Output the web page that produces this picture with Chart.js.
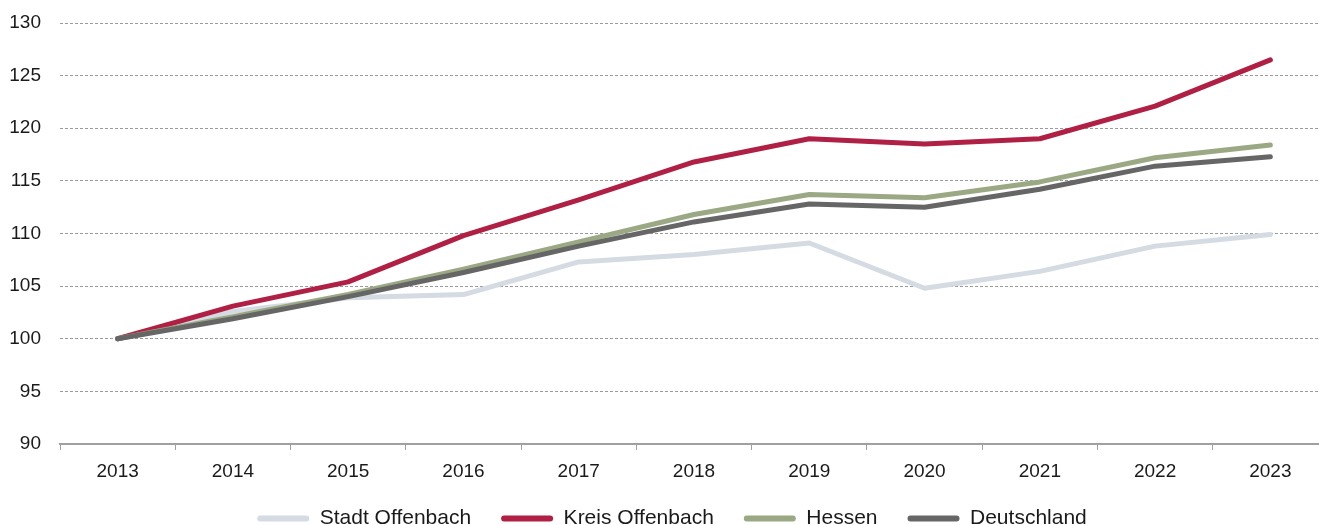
<!DOCTYPE html>
<html>
<head>
<meta charset="utf-8">
<script src="https://cdn.jsdelivr.net/npm/chart.js@4"></script>
<style>
  html, body { margin: 0; padding: 0; background: #fff; overflow: hidden; }
  #wrap { width: 1328px; height: 525px; }
</style>
</head>
<body>
<div id="wrap"><canvas id="lineChart" width="1328" height="525"></canvas></div>
<script>
const years = ["2013", "2014", "2015", "2016", "2017", "2018", "2019", "2020", "2021", "2022", "2023"];

const stadtOffenbach = [100, 102.6, 103.9, 104.2, 107.3, 108.0, 109.1, 104.8, 106.4, 108.8, 109.9];
const kreisOffenbach = [100, 103.1, 105.4, 109.8, 113.2, 116.8, 119.0, 118.5, 119.0, 122.1, 126.5];
const hessen = [100, 102.1, 104.2, 106.6, 109.2, 111.8, 113.7, 113.4, 114.9, 117.2, 118.4];
const deutschland = [100, 101.9, 104.0, 106.3, 108.8, 111.1, 112.8, 112.5, 114.2, 116.4, 117.3];

const seriesNames = ["Stadt Offenbach", "Kreis Offenbach", "Hessen", "Deutschland"];
const seriesColors = ["#d4dbe3", "#b01f44", "#9ba884", "#666666"];

function makeDataset(i, values) {
    return {
        label: seriesNames[i],
        data: values,
        borderColor: seriesColors[i],
        backgroundColor: seriesColors[i],
        borderWidth: 5,
        borderCapStyle: "round",
        borderJoinStyle: "round",
        pointRadius: 0,
        tension: 0,
        order: 4 - i
    };
}

// legend sits tighter under the axis and slightly right of centre in the original
const legendTweak = {
    id: "legendTweak",
    beforeInit(chart) {
        const fit = chart.legend.fit;
        chart.legend.fit = function () {
            fit.call(this);
            this.height -= 20;
        };
    },
    afterLayout(chart) {
        chart.legend.left += 8;
        chart.legend.right += 8;
        chart.legend.top -= 6;
    }
};

const ctx = document.getElementById("lineChart").getContext("2d");

new Chart(ctx, {
    type: "line",
    data: {
        labels: years,
        datasets: [
            makeDataset(0, stadtOffenbach),
            makeDataset(1, kreisOffenbach),
            makeDataset(2, hessen),
            makeDataset(3, deutschland)
        ]
    },
    plugins: [legendTweak],
    options: {
        responsive: false,
        animation: false,
        layout: { padding: { top: 23, left: 0, right: 0, bottom: 0 } },
        plugins: {
            tooltip: { enabled: false },
            legend: {
                position: "bottom",
                labels: {
                    boxWidth: 52,
                    boxHeight: 6,
                    useBorderRadius: true,
                    borderRadius: 3,
                    padding: 30,
                    color: "#1a1a1a",
                    font: { family: "Liberation Sans", size: 21 },
                    sort: (a, b) => a.datasetIndex - b.datasetIndex,
                    generateLabels: chart =>
                        Chart.defaults.plugins.legend.labels.generateLabels(chart)
                            .map(l => ({ ...l, lineWidth: 0 }))
                }
            }
        },
        scales: {
            x: {
                offset: true,
                afterFit: scale => { scale.height = 40; },
                grid: {
                    offset: true,
                    drawOnChartArea: false,
                    drawTicks: true,
                    tickLength: 6,
                    color: "#a0a0a0"
                },
                border: { display: true, color: "#a0a0a0", width: 2 },
                ticks: {
                    color: "#1a1a1a",
                    padding: 10,
                    maxRotation: 0,
                    font: { family: "Liberation Sans", size: 19 }
                }
            },
            y: {
                min: 90,
                max: 130,
                afterFit: scale => {
                    scale.width = 60;
                    scale.paddingTop = 0;
                    scale.paddingBottom = 0;
                },
                grid: {
                    drawTicks: false,
                    color: c => (c.tick && c.tick.value === 90) ? "rgba(0,0,0,0)" : "#9a9a9a",
                    lineWidth: 1
                },
                border: { display: false, dash: [3, 2] },
                ticks: {
                    stepSize: 5,
                    color: "#1a1a1a",
                    padding: 19,
                    font: { family: "Liberation Sans", size: 19 }
                }
            }
        }
    }
});
</script>
</body>
</html>
